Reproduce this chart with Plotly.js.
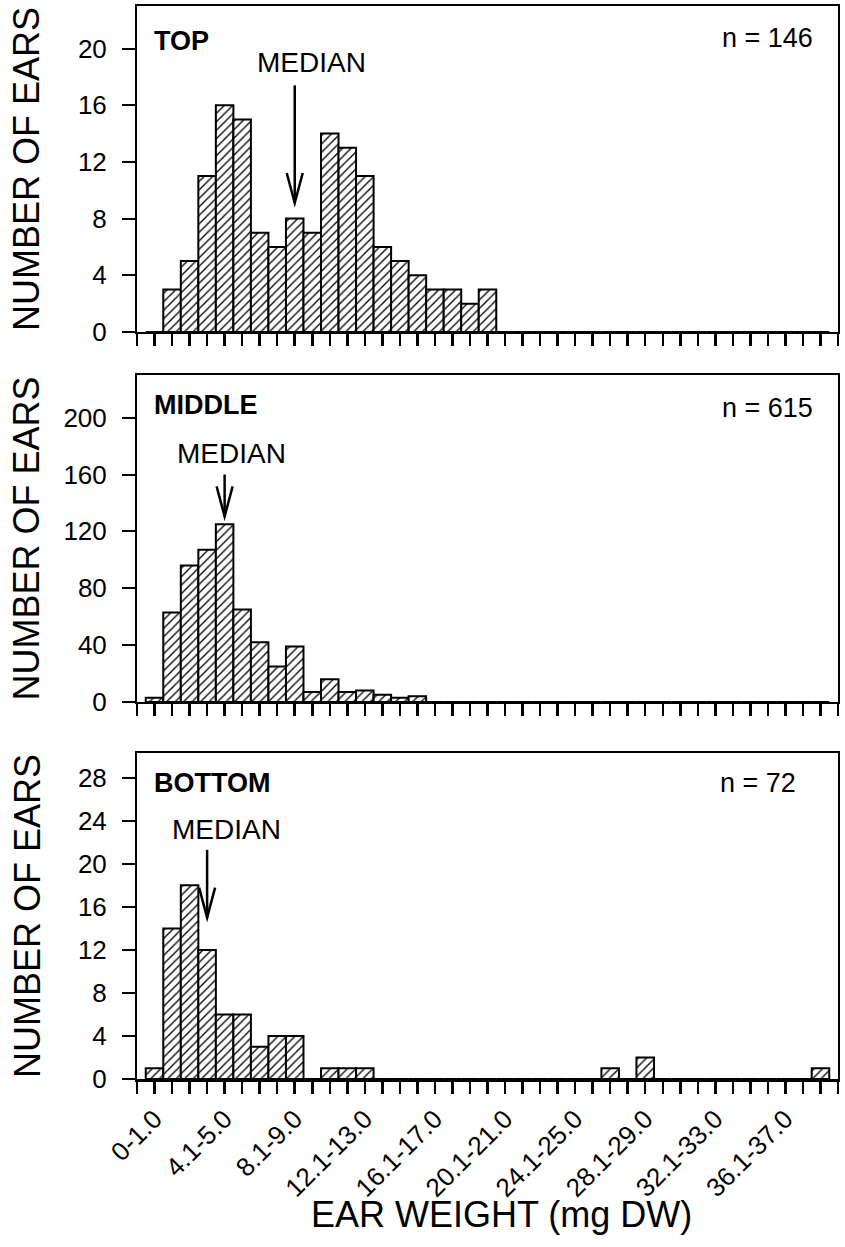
<!DOCTYPE html>
<html>
<head>
<meta charset="utf-8">
<script src="https://cdn.plot.ly/plotly-3.0.1.min.js"></script>
<style>html,body{margin:0;padding:0;background:#fff;}</style>
</head>
<body>
<div id="chart" style="width:845px;height:1247px;"></div>
<script>
// Bin labels (ear weight classes, mg DW)
const bins = ['0-1.0','1.1-2.0','2.1-3.0','3.1-4.0','4.1-5.0','5.1-6.0','6.1-7.0','7.1-8.0','8.1-9.0','9.1-10.0',
  '10.1-11.0','11.1-12.0','12.1-13.0','13.1-14.0','14.1-15.0','15.1-16.0','16.1-17.0','17.1-18.0','18.1-19.0','19.1-20.0',
  '20.1-21.0','21.1-22.0','22.1-23.0','23.1-24.0','24.1-25.0','25.1-26.0','26.1-27.0','27.1-28.0','28.1-29.0','29.1-30.0',
  '30.1-31.0','31.1-32.0','32.1-33.0','33.1-34.0','34.1-35.0','35.1-36.0','36.1-37.0','37.1-38.0','38.1-39.0'];
const labelledBins = ['0-1.0','4.1-5.0','8.1-9.0','12.1-13.0','16.1-17.0','20.1-21.0','24.1-25.0','28.1-29.0','32.1-33.0','36.1-37.0'];

const topCounts = [0,3,5,11,16,15,7,6,8,7,14,13,11,6,5,4,3,3,2,3,0,0,0,0,0,0,0,0,0,0,0,0,0,0,0,0,0,0,0];
const middleCounts = [3,63,96,107,125,65,42,25,39,7,16,7,8,5,3,4,0,0,0,0,0,0,0,0,0,0,0,0,0,0,0,0,0,0,0,0,0,0,0];
const bottomCounts = [1,14,18,12,6,6,3,4,4,0,1,1,1,0,0,0,0,0,0,0,0,0,0,0,0,0,1,0,2,0,0,0,0,0,0,0,0,0,1];

const panelNames = ['TOP','MIDDLE','BOTTOM'];
const panelN = ['n = 146','n = 615','n = 72'];
const topTicks = [0,4,8,12,16,20];
const middleTicks = [0,40,80,120,160,200];
const bottomTicks = [0,4,8,12,16,20,24,28];
// median arrow: bin position, arrow tail, arrow tip
const medianBin = [9, 5, 4];
const medianTail = [17.4, 160, 21.3];
const medianTip = [9.1, 130.5, 15.0];
const medianText = [[9.95,19.0],[5.4,174.8],[5.1,23.2]];

const FONT = 'Liberation Sans, Arial, Helvetica, sans-serif';
const xPos = bins.map((b,i)=>i+1);
const tickPositions = Array.from({length:41},(_, i)=>i);
const tickText = tickPositions.map(v => (v>=1 && v<=bins.length && labelledBins.indexOf(bins[v-1])>=0) ? bins[v-1] : '');

function barTrace(vals, xa, ya){
  return {
    type:'bar', x:xPos, y:vals, xaxis:xa, yaxis:ya, width:1,
    marker:{color:'white', line:{color:'black', width:2},
      pattern:{shape:'/', fgcolor:'black', bgcolor:'white', size:6, solidity:0.22, fillmode:'replace'}},
    showlegend:false, hoverinfo:'skip'
  };
}
const data = [
  barTrace(topCounts,'x','y'),
  barTrace(middleCounts,'x2','y2'),
  barTrace(bottomCounts,'x3','y3')
];

function xAxis(anchor, labels){
  return {anchor:anchor, domain:[0,1], range:[0,40], tickmode:'array', tickvals:tickPositions,
    ticktext: labels ? tickText : tickPositions.map(()=>''), showticklabels: !!labels,
    ticks:'outside', ticklen:12, tickwidth:2.5, tickcolor:'black', tickangle:-45,
    showline:true, linewidth:2.5, linecolor:'black', mirror:true, showgrid:false, zeroline:false,
    tickfont:{family:FONT, size:26, color:'black'}, fixedrange:true};
}
function yAxis(anchor, domain, range, ticks){
  return {anchor:anchor, domain:domain, range:range, tickmode:'array', tickvals:ticks,
    ticks:'outside', ticklen:13, tickwidth:2, tickcolor:'black', ticklabelstandoff:10,
    showline:true, linewidth:2, linecolor:'black', mirror:true, showgrid:false, zeroline:false,
    tickfont:{family:FONT, size:26, color:'black'}, fixedrange:true};
}
const domains = [[0.6962,1.0],[0.3514,0.6561],[0.0,0.3038]];
const layout = {
  width:845, height:1247, margin:{l:137, r:7, t:6, b:168},
  paper_bgcolor:'white', plot_bgcolor:'white', bargap:0,
  font:{family:FONT, color:'black'},
  xaxis: xAxis('y', false),
  xaxis2: xAxis('y2', false),
  xaxis3: xAxis('y3', true),
  yaxis: yAxis('x', domains[0], [0,23], topTicks),
  yaxis2: yAxis('x2', domains[1], [0,230], middleTicks),
  yaxis3: yAxis('x3', domains[2], [0,30.3], bottomTicks),
  annotations: [], shapes: []
};
const xr = ['x','x2','x3'], yr = ['y','y2','y3'];
const nameY = [0.894, 0.908, 0.909];
const nY = [0.902, 0.899, 0.909];
const nX = [0.967, 0.967, 0.943];
for(let p=0;p<3;p++){
  layout.annotations.push({xref:xr[p]+' domain', yref:yr[p]+' domain', x:0.022, y:nameY[p], xanchor:'left', yanchor:'middle',
    text:'<b>'+panelNames[p]+'</b>', showarrow:false, font:{family:FONT, size:27, color:'black'}});
  layout.annotations.push({xref:xr[p]+' domain', yref:yr[p]+' domain', x:nX[p], y:nY[p], xanchor:'right', yanchor:'middle',
    text:panelN[p], showarrow:false, font:{family:FONT, size:27, color:'black'}});
  layout.annotations.push({xref:xr[p], yref:yr[p], x:medianText[p][0], y:medianText[p][1], xanchor:'center', yanchor:'middle',
    text:'MEDIAN', showarrow:false, font:{family:FONT, size:28, color:'black'}});
  layout.annotations.push({xref:'paper', yref:'paper', x:-0.157, y:(domains[p][0]+domains[p][1])/2, xanchor:'center', yanchor:'middle',
    text:'NUMBER OF EARS', textangle:-90, showarrow:false, font:{family:FONT, size:36, color:'black'}});
  layout.shapes.push({type:'line', xref:xr[p], yref:yr[p], x0:medianBin[p], x1:medianBin[p], y0:medianTail[p], y1:medianTip[p],
    line:{color:'black', width:2.5}});
  layout.shapes.push({type:'path', xref:xr[p], yref:yr[p], xsizemode:'pixel', ysizemode:'pixel',
    xanchor:medianBin[p], yanchor:medianTip[p], path:'M-8,30L0,0L8,30', line:{color:'black', width:2.5}});
}
layout.annotations.push({xref:'paper', yref:'paper', x:0.52, y:-0.126, xanchor:'center', yanchor:'middle',
  text:'EAR WEIGHT (mg DW)', showarrow:false, font:{family:FONT, size:36, color:'black'}});

Plotly.newPlot('chart', data, layout, {displayModeBar:false, staticPlot:true});
</script>
</body>
</html>
